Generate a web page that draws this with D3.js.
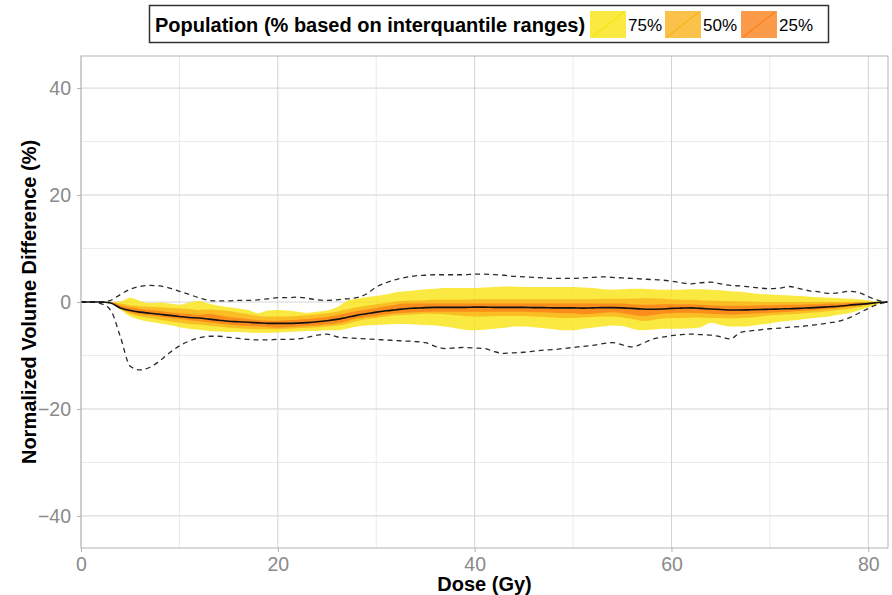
<!DOCTYPE html>
<html>
<head>
<meta charset="utf-8">
<script src="https://cdn.jsdelivr.net/npm/d3@7"></script>
<style>
  html, body { margin: 0; padding: 0; background: #fff; }
  svg { display: block; font-family: "Liberation Sans", Arial, Helvetica, sans-serif; }
</style>
</head>
<body>
<svg id="chart" width="892" height="595"></svg>
<script>
// Dose grid (Gy)
const dose = d3.range(0, 83);

// Median normalized volume difference (%)
const median = [0,0,0,-0.2,-1.1,-1.6,-1.9,-2.1,-2.3,-2.5,-2.7,-2.9,-3.0,-3.2,-3.4,-3.6,-3.7,-3.8,-3.9,-4.0,
  -4.0,-4.0,-3.95,-3.85,-3.7,-3.5,-3.25,-2.9,-2.5,-2.2,-1.9,-1.65,-1.45,-1.25,-1.15,-1.05,-1.0,-1.0,-1.0,-1.0,
  -0.95,-0.95,-1.0,-1.0,-1.0,-1.0,-1.05,-1.05,-1.1,-1.1,-1.1,-1.15,-1.1,-1.05,-1.05,-1.1,-1.2,-1.3,-1.35,-1.3,
  -1.2,-1.15,-1.1,-1.2,-1.3,-1.4,-1.5,-1.5,-1.45,-1.4,-1.35,-1.3,-1.25,-1.2,-1.1,-1.0,-0.9,-0.8,-0.6,-0.45,
  -0.3,-0.1,0];

// Population extremes
const maxDiff = [0,0,0,0.3,1.4,2.4,2.9,3.1,3.0,2.6,2.0,1.4,0.8,0.3,0.2,0.2,0.3,0.3,0.4,0.6,
  0.8,0.8,0.9,0.7,0.4,0.3,0.4,0.6,0.8,1.5,2.8,3.6,4.2,4.6,4.9,5.0,5.1,5.1,5.1,5.1,
  5.2,5.2,5.1,5.0,4.8,4.7,4.6,4.5,4.4,4.4,4.4,4.5,4.6,4.7,4.6,4.5,4.4,4.3,4.2,4.1,
  3.9,3.6,3.4,3.6,3.7,3.4,3.1,3.0,2.8,2.6,2.5,2.6,2.9,2.5,2.1,1.9,1.6,1.7,2.0,1.8,
  1.0,0.3,0];
const minDiff = [0,0,-0.3,-1.5,-6.5,-12.0,-12.7,-12.2,-11.0,-9.5,-8.2,-7.3,-6.7,-6.4,-6.4,-6.6,-6.8,-7.0,-7.1,-7.1,
  -7.0,-7.0,-6.9,-6.6,-6.2,-6.0,-6.5,-6.7,-6.8,-6.9,-7.0,-7.1,-7.2,-7.3,-7.4,-7.6,-8.3,-8.7,-8.6,-8.5,
  -8.6,-8.7,-9.3,-9.6,-9.5,-9.4,-9.2,-9.0,-8.9,-8.7,-8.5,-8.3,-8.1,-7.8,-7.6,-8.0,-8.4,-7.8,-7.0,-6.6,
  -6.3,-6.1,-6.0,-6.1,-6.2,-6.5,-6.9,-5.7,-5.4,-5.2,-5.0,-4.9,-4.7,-4.6,-4.4,-4.2,-3.9,-3.6,-3.0,-2.1,
  -1.2,-0.4,0];

// 75% band (12.5th - 87.5th percentile)
const band75Hi = [0,0,0,0,0.1,0.8,0.2,-0.2,-0.1,-0.3,-0.5,-0.1,0.2,-0.3,-0.7,-1.0,-1.2,-1.5,-2.1,-1.6,
  -1.5,-1.6,-1.8,-2.0,-1.8,-1.6,-1.0,0.2,0.6,0.9,1.1,1.4,1.8,2.0,2.2,2.4,2.5,2.6,2.6,2.6,
  2.6,2.7,2.8,2.9,2.9,2.8,2.8,2.8,2.8,2.8,2.8,2.7,2.6,2.4,2.3,2.4,2.5,2.5,2.4,2.3,
  2.3,2.3,2.4,2.4,2.3,2.2,2.0,1.9,1.7,1.5,1.4,1.3,1.2,1.1,1.0,0.9,0.8,0.7,0.6,0.5,
  0.3,0.1,0];
const band75Lo = [0,0,0,-0.3,-1.4,-2.7,-3.3,-3.7,-4.0,-4.3,-4.7,-5.0,-5.2,-5.4,-5.5,-5.6,-5.6,-5.7,-5.8,-5.8,
  -5.7,-5.6,-5.5,-5.4,-5.4,-5.3,-5.3,-5.0,-4.6,-4.4,-4.3,-4.2,-4.1,-4.1,-4.2,-4.3,-4.4,-4.6,-4.9,-5.2,
  -5.3,-5.2,-5.0,-4.8,-4.6,-4.6,-4.7,-4.9,-5.1,-5.3,-5.3,-5.0,-4.8,-4.6,-4.4,-4.5,-5.0,-5.3,-5.2,-5.0,
  -5.0,-5.0,-4.9,-4.7,-3.9,-4.3,-4.6,-4.6,-4.5,-4.2,-4.0,-3.7,-3.5,-3.3,-3.1,-2.9,-2.7,-2.4,-2.1,-1.6,
  -1.0,-0.4,0];

// 50% band (interquartile range)
const band50Hi = [0,0,0,0,-0.3,-0.6,-0.8,-0.9,-1.0,-1.1,-1.2,-1.3,-1.5,-1.4,-1.5,-1.7,-2.0,-2.3,-2.6,-2.7,
  -2.7,-2.7,-2.6,-2.5,-2.3,-2.1,-1.8,-1.4,-1.0,-0.7,-0.4,-0.2,0.1,0.25,0.3,0.35,0.4,0.4,0.4,0.4,
  0.5,0.5,0.5,0.5,0.5,0.5,0.5,0.5,0.5,0.5,0.5,0.5,0.5,0.6,0.6,0.6,0.6,0.7,0.7,0.6,
  0.5,0.4,0.4,0.3,0.3,0.2,0.2,0.1,0.1,0,0,0,0,0,0,0,0,0,0,0,
  0,0,0];
const band50Lo = [0,0,0,-0.2,-1.4,-2.2,-2.7,-3.0,-3.3,-3.6,-3.9,-4.1,-4.2,-4.4,-4.6,-4.8,-4.9,-5.0,-5.1,-5.1,
  -5.1,-5.0,-4.9,-4.8,-4.7,-4.6,-4.4,-4.1,-3.6,-3.2,-3.0,-2.7,-2.5,-2.4,-2.3,-2.2,-2.2,-2.3,-2.5,-2.6,
  -2.7,-2.7,-2.6,-2.6,-2.6,-2.6,-2.7,-2.8,-2.9,-3.0,-3.0,-2.9,-2.8,-2.7,-2.7,-2.9,-3.2,-3.5,-3.4,-3.1,
  -3.0,-3.0,-2.9,-2.9,-3.0,-3.0,-3.1,-3.0,-2.9,-2.7,-2.5,-2.4,-2.3,-2.2,-2.0,-1.9,-1.7,-1.5,-1.3,-1.0,
  -0.6,-0.2,0];

// 25% band (37.5th - 62.5th percentile)
const band25Hi = [0,0,0,0,-0.6,-1.0,-1.3,-1.5,-1.7,-1.9,-2.1,-2.2,-2.4,-2.2,-2.5,-2.8,-3.0,-3.2,-3.4,-3.5,
  -3.5,-3.4,-3.3,-3.2,-3.0,-2.8,-2.5,-2.1,-1.7,-1.4,-1.1,-0.8,-0.5,-0.3,-0.3,-0.3,-0.3,-0.3,-0.3,-0.3,
  -0.3,-0.3,-0.3,-0.3,-0.3,-0.3,-0.3,-0.3,-0.3,-0.3,-0.3,-0.3,-0.3,-0.3,-0.3,-0.3,-0.4,-0.5,-0.5,-0.4,
  -0.4,-0.4,-0.4,-0.5,-0.6,-0.7,-0.7,-0.7,-0.7,-0.6,-0.6,-0.5,-0.5,-0.5,-0.4,-0.4,-0.3,-0.3,-0.2,-0.1,
  -0.1,0,0];
const band25Lo = [0,0,0,-0.1,-1.2,-1.9,-2.3,-2.5,-2.7,-3.0,-3.2,-3.4,-3.6,-3.8,-4.0,-4.2,-4.4,-4.5,-4.6,-4.7,
  -4.8,-4.7,-4.6,-4.5,-4.4,-4.2,-4.0,-3.6,-3.1,-2.8,-2.6,-2.3,-2.1,-2.0,-1.9,-1.8,-1.8,-1.8,-1.8,-1.8,
  -1.8,-1.8,-1.8,-1.8,-1.8,-1.8,-1.9,-1.9,-2.0,-2.1,-2.1,-2.3,-2.2,-2.0,-1.9,-2.1,-2.4,-2.6,-2.5,-2.2,
  -2.1,-2.0,-2.0,-2.1,-2.2,-2.3,-2.4,-2.3,-2.2,-2.1,-2.0,-1.9,-1.8,-1.7,-1.6,-1.4,-1.3,-1.1,-0.9,-0.7,
  -0.4,-0.1,0];

// Axis ticks
const xTicks = [0, 20, 40, 60, 80];
const xMinor = [10, 30, 50, 70];
const yTicks = [-40, -20, 0, 20, 40];
const yMinor = [-30, -10, 10, 30];

// Legend entries
const legendLabels = ["75%", "50%", "25%"];
const legendTitle = "Population (% based on interquantile ranges)";

const bandFill = ["#F8E410", "#FAB31D", "#FA811A"];
const bands = [
  { lo: band75Lo, hi: band75Hi },
  { lo: band50Lo, hi: band50Hi },
  { lo: band25Lo, hi: band25Hi }
];

const svg = d3.select("#chart");
const L = 81, R = 888, T = 56, B = 548;

const x = d3.scaleLinear().domain([0, 82]).range([L, R]);
const y = d3.scaleLinear().domain([-46, 46]).range([B, T]);

// Grid
const grid = svg.append("g");
grid.selectAll(".ym").data(yMinor).join("line")
  .attr("x1", L).attr("x2", R).attr("y1", d => y(d)).attr("y2", d => y(d))
  .attr("stroke", "#e4e4e4").attr("stroke-width", 0.8);
grid.selectAll(".xm").data(xMinor).join("line")
  .attr("y1", T).attr("y2", B).attr("x1", d => x(d)).attr("x2", d => x(d))
  .attr("stroke", "#e4e4e4").attr("stroke-width", 0.8);
grid.selectAll(".yM").data(yTicks).join("line")
  .attr("x1", L).attr("x2", R).attr("y1", d => y(d)).attr("y2", d => y(d))
  .attr("stroke", "#d4d4d4").attr("stroke-width", 1);
grid.selectAll(".xM").data(xTicks).join("line")
  .attr("y1", T).attr("y2", B).attr("x1", d => x(d)).attr("x2", d => x(d))
  .attr("stroke", "#d4d4d4").attr("stroke-width", 1);

// Bands
svg.append("clipPath").attr("id", "panel")
  .append("rect").attr("x", L).attr("y", T).attr("width", R - L).attr("height", B - T);
const plot = svg.append("g").attr("clip-path", "url(#panel)");

bands.forEach((b, i) => {
  const area = d3.area()
    .x((d, j) => x(dose[j]))
    .y0((d, j) => y(b.lo[j]))
    .y1((d, j) => y(b.hi[j]))
    .curve(d3.curveMonotoneX);
  plot.append("path").datum(dose).attr("d", area)
    .attr("fill", bandFill[i]).attr("fill-opacity", 0.8);
});

const lineOf = arr => d3.line()
  .x((d, j) => x(dose[j]))
  .y((d, j) => y(arr[j]))
  .curve(d3.curveMonotoneX);

[maxDiff, minDiff].forEach(arr => {
  plot.append("path").datum(dose).attr("d", lineOf(arr))
    .attr("fill", "none").attr("stroke", "#2b2b2b")
    .attr("stroke-width", 1.3).attr("stroke-dasharray", "5,4");
});

plot.append("path").datum(dose).attr("d", lineOf(median))
  .attr("fill", "none").attr("stroke", "#111").attr("stroke-width", 1.6);

// Panel border
svg.append("rect").attr("x", L).attr("y", T).attr("width", R - L).attr("height", B - T)
  .attr("fill", "none").attr("stroke", "#b3b3b3").attr("stroke-width", 1);

// Axes
const yAxis = svg.append("g").attr("transform", `translate(${L},0)`)
  .call(d3.axisLeft(y).tickValues(yTicks).tickSize(4).tickPadding(6)
    .tickFormat(d => d < 0 ? "\u2212" + Math.abs(d) : d));
const xAxis = svg.append("g").attr("transform", `translate(0,${B})`)
  .call(d3.axisBottom(x).tickValues(xTicks).tickSize(4).tickPadding(5));
[xAxis, yAxis].forEach(g => {
  g.select(".domain").remove();
  g.selectAll(".tick line").attr("stroke", "#b3b3b3");
  g.selectAll(".tick text").attr("fill", "#8a8a8a").style("font-size", "19.5px")
    .style("font-family", "\"Liberation Sans\", Arial, sans-serif");
});

// Axis titles
svg.append("text").attr("x", (L + R) / 2).attr("y", 591).attr("text-anchor", "middle")
  .style("font-size", "20px").style("font-weight", "bold").attr("fill", "#000")
  .text("Dose (Gy)");
svg.append("text").attr("transform", `translate(36,${(T + B) / 2}) rotate(-90)`)
  .attr("text-anchor", "middle")
  .style("font-size", "20px").style("font-weight", "bold").attr("fill", "#000")
  .text("Normalized Volume Difference (%)");

// Legend
const lg = svg.append("g");
lg.append("rect").attr("x", 149.5).attr("y", 5.5).attr("width", 679).attr("height", 37)
  .attr("fill", "#fff").attr("stroke", "#333").attr("stroke-width", 1.5);
lg.append("text").attr("x", 155).attr("y", 32)
  .style("font-size", "20px").style("font-weight", "bold").attr("fill", "#000")
  .text(legendTitle);
const keyX = [590, 665, 741];
legendLabels.forEach((lab, i) => {
  const kx = keyX[i], ky = 11, kw = 36, kh = 27;
  lg.append("rect").attr("x", kx).attr("y", ky).attr("width", kw).attr("height", kh)
    .attr("fill", bandFill[i]).attr("fill-opacity", 0.8);
  lg.append("line").attr("x1", kx + 2).attr("y1", ky + kh - 1).attr("x2", kx + kw - 2).attr("y2", ky + 1)
    .attr("stroke", bandFill[i]).attr("stroke-width", 1.2);
  lg.append("text").attr("x", kx + kw + 2).attr("y", 31)
    .style("font-size", "17px").attr("fill", "#000").text(lab);
});
</script>
</body>
</html>
